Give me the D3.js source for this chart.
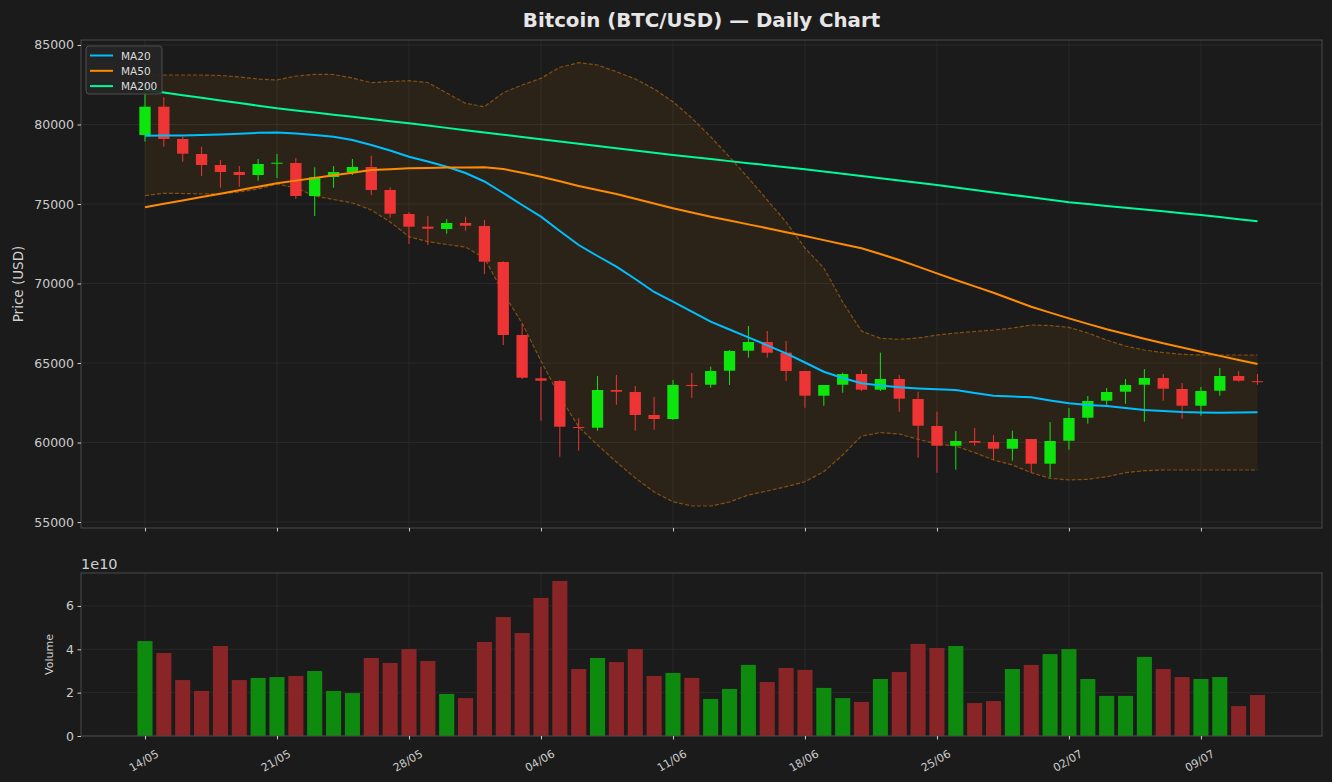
<!DOCTYPE html>
<html><head><meta charset="utf-8">
<script src="https://cdn.jsdelivr.net/npm/d3@7"></script>
<style>
html,body{margin:0;padding:0;background:#1b1b1b;}
svg{display:block;font-family:"DejaVu Sans",sans-serif;}
</style></head><body>
<svg id="chart" width="1332" height="782"></svg>
<script>
// ---- data ----
const tickDays = [0,7,14,21,28,35,42,49,56];
const tickLabels = ["14/05","21/05","28/05","04/06","11/06","18/06","25/06","02/07","09/07"];
const priceTicks = [55000,60000,65000,70000,75000,80000,85000];
const volumeTicks = [0,2e10,4e10,6e10];

const open = [79340,81120,79088,78145,77453,77013,76824,77560,77579,75504,76699,76994,77327,75881,74372,73573,73428,73806,73617,71353,66762,64039,63869,60976,60932,63303,63177,61731,61479,63620,63636,64517,65774,66322,65649,64498,62945,63636,64309,63322,63995,62737,61039,59800,60096,60033,59611,60221,58668,60114,61561,62630,63196,63636,64058,63366,62315,63259,64183,63856];
const high = [82378,81711,79233,78604,77768,77390,77831,78145,77893,77309,77390,77831,78038,76051,74497,74246,74057,74202,73994,71400,67454,64768,63932,61523,64183,64246,63555,62863,63932,64372,64768,65819,67328,67013,66385,64498,63617,64391,64561,65649,64246,63196,61938,60724,60913,60473,60743,60221,61290,62171,62926,63429,63995,64624,64309,63743,63492,64687,64498,64309];
const low = [78919,78604,77661,76761,76026,76089,76466,76636,75315,74246,76026,76824,75566,74139,72485,72422,73133,73321,70598,66133,63995,61372,59108,59486,60743,62379,60743,60806,61416,62800,63448,63617,65334,65334,63869,62190,62315,63133,63240,63240,61938,59045,58102,58291,59800,58901,58857,58102,57813,59548,61184,62297,62441,61309,62630,61498,61687,62945,63825,63636];
const close = [81120,79088,78164,77453,77013,76824,77516,77598,75504,76680,77013,77327,75881,74390,73573,73447,73806,73636,71372,66762,64077,63888,60995,60913,63303,63196,61731,61479,63617,63600,64498,65756,66322,65649,64498,62945,63617,64309,63322,63995,62756,61058,59800,60096,59989,59611,60221,58668,60096,61542,62611,63177,63617,64058,63385,62315,63240,64183,63888,63843];
const volume = [4.38e10,3.83e10,2.58e10,2.08e10,4.15e10,2.58e10,2.68e10,2.72e10,2.77e10,3.0e10,2.08e10,1.98e10,3.6e10,3.37e10,4.01e10,3.46e10,1.94e10,1.75e10,4.34e10,5.49e10,4.75e10,6.37e10,7.15e10,3.09e10,3.6e10,3.41e10,4.01e10,2.77e10,2.91e10,2.68e10,1.71e10,2.17e10,3.28e10,2.49e10,3.14e10,3.05e10,2.22e10,1.75e10,1.57e10,2.63e10,2.95e10,4.25e10,4.06e10,4.15e10,1.52e10,1.61e10,3.09e10,3.28e10,3.78e10,4.01e10,2.63e10,1.85e10,1.85e10,3.65e10,3.09e10,2.72e10,2.63e10,2.72e10,1.38e10,1.89e10];
const ma20 = [79296,79309,79315,79340,79371,79415,79478,79497,79434,79340,79233,79025,78711,78365,77975,77673,77346,76950,76416,75692,74938,74202,73302,72422,71730,71057,70284,69466,68856,68227,67598,67108,66617,66114,65611,65032,64454,64058,63724,63586,63473,63397,63347,63303,63114,62945,62894,62844,62643,62466,62360,62297,62171,62045,61982,61919,61888,61875,61888,61900];
const ma50 = [74790,75010,75220,75440,75650,75870,76090,76300,76470,76640,76810,76970,77140,77190,77250,77270,77290,77300,77310,77200,76970,76720,76430,76130,75880,75630,75330,75030,74730,74460,74200,73960,73720,73480,73230,72990,72730,72470,72220,71860,71480,71060,70640,70220,69820,69420,68980,68540,68170,67810,67460,67120,66830,66530,66240,65980,65710,65450,65190,64940];
const ma200 = [82170,82006,81842,81677,81513,81348,81184,81019,80884,80750,80615,80480,80345,80211,80076,79932,79788,79644,79501,79357,79213,79069,78928,78787,78646,78505,78364,78223,78082,77954,77825,77697,77568,77440,77311,77183,77042,76901,76760,76618,76477,76336,76195,76040,75884,75729,75573,75418,75262,75107,74993,74879,74765,74651,74537,74423,74309,74177,74045,73913];
const bbUpper = [83113,83113,83113,83113,83082,82988,82862,82799,83050,83157,83145,82925,82629,82705,82755,82642,81981,81333,81120,82000,82484,82906,83598,83887,83742,83321,82862,82233,81434,80409,79233,77956,76636,75252,73868,72233,70976,68837,67013,66554,66491,66573,66762,66888,66982,67076,67202,67391,67359,67246,66888,66447,66070,65819,65661,65548,65504,65504,65504,65504];
const bbLower = [75522,75673,75661,75629,75642,75755,75944,76258,76007,75504,75283,75063,74623,73868,72944,72630,72453,72296,71604,69403,67498,65127,62882,60976,59844,58775,57769,56888,56278,56008,56008,56259,56699,56951,57222,57536,58165,59215,60410,60618,60536,60202,59907,59781,59360,58901,58586,58102,57750,57643,57687,57851,58102,58228,58272,58272,58272,58272,58272,58272];

const maSeries = [
  {name:"MA20", values:ma20, color:"#00bfff"},
  {name:"MA50", values:ma50, color:"#ff8c00"},
  {name:"MA200", values:ma200, color:"#00fa9a"}
];

// ---- layout ----
const W=1332, H=782;
const L=81, R=1322, pT=40, pB=528, vT=573, vB=736;
const days = open.map((_, i) => i);
const svg = d3.select("#chart");
svg.append("rect").attr("width",W).attr("height",H).attr("fill","#1b1b1b");

const x = d3.scaleLinear().domain([-3.394, 62.42]).range([L, R]);
const y = d3.scaleLinear().domain([54625, 85314]).range([pB, pT]);
const yv = d3.scaleLinear().domain([0, 7.52e10]).range([vB, vT]);
const dayW = x(1) - x(0);

const defs = svg.append("defs");
defs.append("clipPath").attr("id","clipP").append("rect").attr("x",L).attr("y",pT).attr("width",R-L).attr("height",pB-pT);
defs.append("clipPath").attr("id","clipV").append("rect").attr("x",L).attr("y",vT).attr("width",R-L).attr("height",vB-vT);

svg.append("rect").attr("x",L).attr("y",pT).attr("width",R-L).attr("height",pB-pT).attr("fill","#1b1b1b");
svg.append("rect").attr("x",L).attr("y",vT).attr("width",R-L).attr("height",vB-vT).attr("fill","#1b1b1b");

// grids
const gridColor = "#2c2c2c";
const gP = svg.append("g");
gP.selectAll("line.vx").data(tickDays).join("line")
  .attr("x1",d=>x(d)).attr("x2",d=>x(d)).attr("y1",pT).attr("y2",pB)
  .attr("stroke",gridColor).attr("stroke-width",0.8);
gP.selectAll("line.hy").data(priceTicks).join("line")
  .attr("x1",L).attr("x2",R).attr("y1",d=>y(d)).attr("y2",d=>y(d))
  .attr("stroke",gridColor).attr("stroke-width",0.8);
const gV = svg.append("g");
gV.selectAll("line.vx").data(tickDays).join("line")
  .attr("x1",d=>x(d)).attr("x2",d=>x(d)).attr("y1",vT).attr("y2",vB)
  .attr("stroke",gridColor).attr("stroke-width",0.8);
gV.selectAll("line.hy").data(volumeTicks).join("line")
  .attr("x1",L).attr("x2",R).attr("y1",d=>yv(d)).attr("y2",d=>yv(d))
  .attr("stroke",gridColor).attr("stroke-width",0.8);

// price plot
const plot = svg.append("g").attr("clip-path","url(#clipP)");
const area = d3.area().x(i=>x(i)).y0(i=>y(bbLower[i])).y1(i=>y(bbUpper[i]));
plot.append("path").datum(days).attr("d",area).attr("fill","#ff8c00").attr("fill-opacity",0.08);
const upLine = d3.line().x(i=>x(i)).y(i=>y(bbUpper[i]));
const loLine = d3.line().x(i=>x(i)).y(i=>y(bbLower[i]));
[upLine, loLine].forEach(gen=>{
  plot.append("path").datum(days).attr("d",gen).attr("fill","none")
    .attr("stroke","#ff8c00").attr("stroke-opacity",0.45).attr("stroke-width",1.2)
    .attr("stroke-dasharray","4,2");
});

const upC = "#0de60d", dnC = "#ee3434";
const cg = plot.append("g");
cg.selectAll("line.wick").data(days).join("line")
  .attr("x1",i=>x(i)).attr("x2",i=>x(i))
  .attr("y1",i=>y(high[i])).attr("y2",i=>y(low[i]))
  .attr("stroke",i=>close[i]>=open[i]?upC:dnC).attr("stroke-width",1);
cg.selectAll("rect.body").data(days).join("rect")
  .attr("x",i=>x(i)-dayW*0.3).attr("width",dayW*0.6)
  .attr("y",i=>y(Math.max(open[i],close[i])))
  .attr("height",i=>Math.max(1, Math.abs(y(open[i])-y(close[i]))))
  .attr("fill",i=>close[i]>=open[i]?upC:dnC);

maSeries.forEach(s=>{
  const ln = d3.line().x(i=>x(i)).y(i=>y(s.values[i]));
  plot.append("path").datum(days).attr("d",ln).attr("fill","none")
    .attr("stroke",s.color).attr("stroke-width",2);
});

// volume
const vg = svg.append("g").attr("clip-path","url(#clipV)");
vg.selectAll("rect").data(days).join("rect")
  .attr("x",i=>x(i)-dayW*0.4).attr("width",dayW*0.8)
  .attr("y",i=>yv(volume[i])).attr("height",i=>yv(0)-yv(volume[i]))
  .attr("fill",i=>close[i]>=open[i]?"#0e8a0e":"#8a2527");

// frames
[[pT,pB],[vT,vB]].forEach(([t,b])=>{
  svg.append("rect").attr("x",L).attr("y",t).attr("width",R-L).attr("height",b-t)
    .attr("fill","none").attr("stroke","#4a4a4a").attr("stroke-width",1);
});

// axes
const tickCol = "#cccccc";
function styleAxis(g){
  g.select(".domain").remove();
  g.selectAll(".tick line").attr("stroke",tickCol);
  g.selectAll(".tick text").attr("fill",tickCol).attr("font-family","DejaVu Sans");
}
svg.append("g").attr("transform",`translate(${L},0)`)
  .call(d3.axisLeft(y).tickValues(priceTicks).tickSize(3.5).tickPadding(3.5).tickFormat(d3.format("d")))
  .call(styleAxis).selectAll("text").attr("font-size",12.5);
svg.append("g").attr("transform",`translate(0,${pB})`)
  .call(d3.axisBottom(x).tickValues(tickDays).tickSize(3.5).tickFormat(""))
  .call(styleAxis);
svg.append("g").attr("transform",`translate(${L},0)`)
  .call(d3.axisLeft(yv).tickValues(volumeTicks).tickSize(3.5).tickPadding(3.5).tickFormat(d=>d/1e10))
  .call(styleAxis).selectAll("text").attr("font-size",12.5);
svg.append("g").attr("transform",`translate(0,${vB})`)
  .call(d3.axisBottom(x).tickValues(tickDays).tickSize(3.5).tickFormat(""))
  .call(styleAxis);
svg.append("g").selectAll("text").data(tickDays).join("text")
  .attr("transform",d=>`translate(${x(d)-1},${vB+25}) rotate(-30)`)
  .attr("text-anchor","middle").attr("dominant-baseline","central")
  .attr("font-size",11).attr("fill",tickCol)
  .text((d,i)=>tickLabels[i]);

// labels
svg.append("text").attr("x",(L+R)/2).attr("y",20).attr("text-anchor","middle")
  .attr("dominant-baseline","central").attr("font-size",19.8).attr("font-weight","bold")
  .attr("fill","#e6e6e6").text("Bitcoin (BTC/USD) — Daily Chart");
svg.append("text").attr("transform",`translate(18,${(pT+pB)/2}) rotate(-90)`)
  .attr("text-anchor","middle").attr("dominant-baseline","central")
  .attr("font-size",13.5).attr("fill","#d0d0d0").text("Price (USD)");
svg.append("text").attr("transform",`translate(49,${(vT+vB)/2}) rotate(-90)`)
  .attr("text-anchor","middle").attr("dominant-baseline","central")
  .attr("font-size",11).attr("fill","#d0d0d0").text("Volume");
svg.append("text").attr("x",L).attr("y",vT-4).attr("font-size",14.5)
  .attr("fill","#d0d0d0").text("1e10");

// legend
const lg = svg.append("g");
lg.append("rect").attr("x",86).attr("y",46).attr("width",76).attr("height",48).attr("rx",3)
  .attr("fill","#262626").attr("fill-opacity",0.9).attr("stroke","#4f4f4f");
maSeries.forEach((s,k)=>{
  const yy = 55.5 + k*15.3;
  lg.append("line").attr("x1",90).attr("x2",113).attr("y1",yy).attr("y2",yy)
    .attr("stroke",s.color).attr("stroke-width",2);
  lg.append("text").attr("x",121).attr("y",yy).attr("dominant-baseline","central")
    .attr("font-size",10.5).attr("fill","#dddddd").text(s.name);
});
</script>
</body></html>
